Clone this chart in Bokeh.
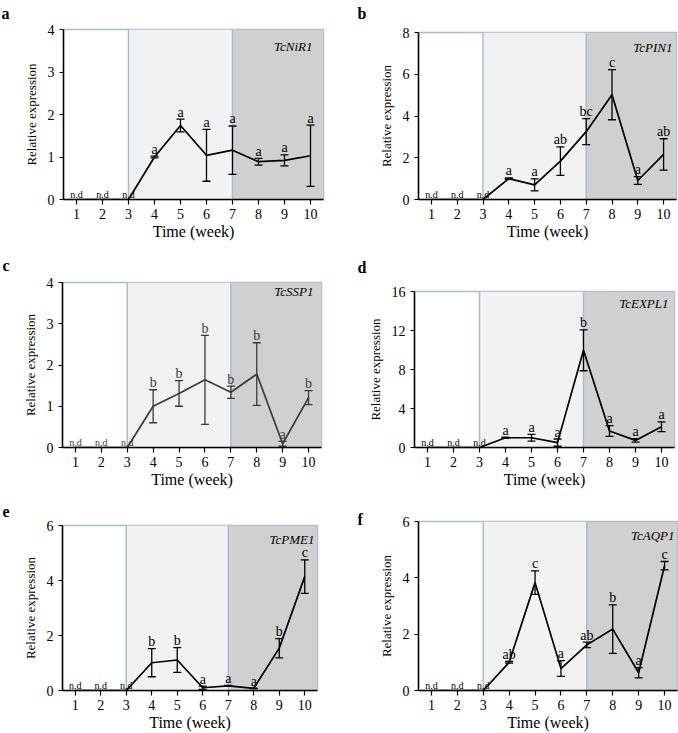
from bokeh.plotting import figure
from bokeh.models import Range1d, FixedTicker, BoxAnnotation, Span, Label, Whisker, ColumnDataSource, TeeHead
from bokeh.layouts import column, row
from bokeh.embed import file_html
from bokeh.resources import INLINE
from bokeh.core.properties import value

# ---------------- data ----------------
weeks = [1, 2, 3, 4, 5, 6, 7, 8, 9, 10]
stage_edges = [3, 7]

nir1_mean = [0, 0, 0, 1.00, 1.74, 1.04, 1.16, 0.89, 0.92, 1.03]
nir1_err = [0, 0, 0, 0.02, 0.15, 0.61, 0.57, 0.08, 0.13, 0.72]
nir1_sig = ["n.d", "n.d", "n.d", "a", "a", "a", "a", "a", "a", "a"]

pin1_mean = [0, 0, 0, 1.00, 0.70, 1.84, 3.25, 5.02, 0.91, 2.16]
pin1_err = [0, 0, 0, 0.03, 0.29, 0.68, 0.62, 1.20, 0.19, 0.75]
pin1_sig = ["n.d", "n.d", "n.d", "a", "a", "ab", "bc", "c", "a", "ab"]

ssp1_mean = [0, 0, 0, 1.00, 1.31, 1.64, 1.34, 1.78, 0.09, 1.21]
ssp1_err = [0, 0, 0, 0.40, 0.31, 1.08, 0.15, 0.76, 0.06, 0.17]
ssp1_sig = ["n.d", "n.d", "n.d", "b", "b", "b", "b", "b", "a", "b"]

expl1_mean = [0, 0, 0, 1.00, 1.00, 0.50, 9.97, 1.70, 0.73, 2.13]
expl1_err = [0, 0, 0, 0.05, 0.35, 0.37, 2.10, 0.55, 0.18, 0.50]
expl1_sig = ["n.d", "n.d", "n.d", "a", "a", "a", "b", "a", "a", "a"]

pme1_mean = [0, 0, 0, 1.01, 1.11, 0.10, 0.17, 0.08, 1.54, 4.14]
pme1_err = [0, 0, 0, 0.51, 0.45, 0.06, 0.02, 0.01, 0.35, 0.61]
pme1_sig = ["n.d", "n.d", "n.d", "b", "b", "a", "a", "a", "b", "c"]

aqp1_mean = [0, 0, 0, 1.00, 3.83, 0.78, 1.62, 2.18, 0.63, 4.43]
aqp1_err = [0, 0, 0, 0.03, 0.42, 0.28, 0.10, 0.86, 0.18, 0.15]
aqp1_sig = ["n.d", "n.d", "n.d", "ab", "c", "a", "ab", "b", "a", "c"]

genes = ["TcNiR1", "TcPIN1", "TcSSP1", "TcEXPL1", "TcPME1", "TcAQP1"]
panel_letters = ["a", "b", "c", "d", "e", "f"]
y_max = [4, 8, 4, 16, 6, 6]
y_ticks = [[0, 1, 2, 3, 4], [0, 2, 4, 6, 8], [0, 1, 2, 3, 4],
           [0, 4, 8, 12, 16], [0, 2, 4, 6], [0, 2, 4, 6]]
means = [nir1_mean, pin1_mean, ssp1_mean, expl1_mean, pme1_mean, aqp1_mean]
errs = [nir1_err, pin1_err, ssp1_err, expl1_err, pme1_err, aqp1_err]
sigs = [nir1_sig, pin1_sig, ssp1_sig, expl1_sig, pme1_sig, aqp1_sig]

# ---------------- layout / style ----------------
# (width, height, border_left, border_right, border_top, border_bottom)
geom = [
    (340, 245, 63, 17, 29, 46),
    (338, 245, 78, 2, 32, 46),
    (340, 245, 62, 19, 37, 39),
    (338, 245, 74, 4, 46, 39),
    (340, 243, 62, 23, 35, 42),
    (338, 243, 78, 1, 31, 43),
]
# panel letter (x, baseline y) in figure coords; gene label (right inset, baseline below top)
letter_pos = [(1, 13), (17, 13), (2, 20), (17, 22), (2, 21), (17, 29)]
gene_pos = [(11, 17), (4, 15), (8, 13), (6, 16), (3, 15), (3, 14)]
inks = ["black", "black", "#3a3a3a", "black", "black", "black"]

SERIF = "Liberation Serif"
BORDER = "#a8bdd2"
LIGHT = "#f2f2f2"
DARK = "#d0d0d0"


def make_panel(i):
    w, h, bl, br, bt, bb = geom[i]
    ink = inks[i]
    p = figure(width=w, height=h, output_backend="svg", toolbar_location=None,
               title=None,
               x_range=Range1d(0.5, 10.5), y_range=Range1d(0, y_max[i]),
               min_border_left=bl, min_border_right=br,
               min_border_top=bt, min_border_bottom=bb)
    p.frame_align = False
    p.xgrid.visible = False
    p.ygrid.visible = False
    p.outline_line_color = BORDER
    p.outline_line_width = 1.5
    p.background_fill_color = "white"
    p.border_fill_color = "white"

    p.add_layout(BoxAnnotation(left=stage_edges[0], right=stage_edges[1], fill_color=LIGHT,
                               fill_alpha=1, line_color=None, level="underlay"))
    p.add_layout(BoxAnnotation(left=stage_edges[1], fill_color=DARK,
                               fill_alpha=1, line_color=None, level="underlay"))
    for e in stage_edges:
        p.add_layout(Span(location=e, dimension="height", line_color=BORDER,
                          line_width=1.5, level="underlay"))

    m = means[i]
    er = errs[i]
    sg = sigs[i]
    p.line(weeks, m, line_color=ink, line_width=1.7)

    det = [k for k in range(len(weeks)) if sg[k] != "n.d"]
    src = ColumnDataSource(dict(
        x=[weeks[k] for k in det],
        upper=[m[k] + er[k] for k in det],
        lower=[m[k] - er[k] for k in det],
        sig=[sg[k] for k in det],
    ))
    p.add_layout(Whisker(source=src, base="x", upper="upper", lower="lower",
                         line_color=ink, line_width=1.3,
                         upper_head=TeeHead(size=8, line_color=ink, line_width=1.3),
                         lower_head=TeeHead(size=8, line_color=ink, line_width=1.3)))
    p.text(x="x", y="upper", text="sig", source=src, text_font=value(SERIF),
           text_font_size="14px", text_align="center", text_baseline="alphabetic",
           y_offset=-7, text_color=ink)

    nd = [k for k in range(len(weeks)) if sg[k] == "n.d"]
    p.text(x=[weeks[k] for k in nd], y=[m[k] for k in nd], text=[sg[k] for k in nd],
           text_font=value(SERIF), text_font_size="10px", text_align="center",
           text_baseline="alphabetic", y_offset=-5, text_color=ink)

    fw = w - bl - br
    fh = h - bt - bb
    gx, gy = gene_pos[i]
    p.add_layout(Label(x=fw - gx, y=fh - gy, x_units="screen", y_units="screen",
                       text=genes[i], text_font=SERIF, text_font_size="13px",
                       text_font_style="italic", text_align="right",
                       text_baseline="alphabetic", text_color="black"))
    lx, ly = letter_pos[i]
    p.add_layout(Label(x=lx - bl, y=bt - ly, x_units="screen", y_units="screen",
                       text=panel_letters[i], text_font=SERIF, text_font_size="16px",
                       text_font_style="bold", text_align="left",
                       text_baseline="alphabetic", text_color="black"), "above")

    for ax in (p.xaxis[0], p.yaxis[0]):
        ax.axis_line_color = "black"
        ax.axis_line_width = 1.5
        ax.major_tick_line_color = "black"
        ax.major_tick_line_width = 1.2
        ax.major_tick_in = 0
        ax.minor_tick_in = 0
        ax.minor_tick_out = 0
        ax.major_label_text_font = SERIF
        ax.major_label_text_color = "black"
        ax.axis_label_text_font = SERIF
        ax.axis_label_text_font_style = "normal"
        ax.axis_label_text_color = "black"

    p.xaxis.ticker = FixedTicker(ticks=weeks)
    p.xaxis.major_tick_out = 5
    p.xaxis.major_label_standoff = 4
    p.xaxis.major_label_text_font_size = "14px"
    p.xaxis.axis_label = "Time (week)"
    p.xaxis.axis_label_text_font_size = "16px"
    p.xaxis.axis_label_standoff = 1

    p.yaxis.ticker = FixedTicker(ticks=y_ticks[i])
    p.yaxis.major_tick_out = 4
    p.yaxis.major_label_standoff = 5
    p.yaxis.major_label_text_font_size = "14px"
    p.yaxis.axis_label = "Relative expression"
    p.yaxis.axis_label_text_font_size = "13px"
    p.yaxis.axis_label_standoff = 6
    return p


panels = [make_panel(i) for i in range(6)]
layout = column(row(panels[0], panels[1]), row(panels[2], panels[3]), row(panels[4], panels[5]))
open("out.html", "w").write(file_html(layout, INLINE))
